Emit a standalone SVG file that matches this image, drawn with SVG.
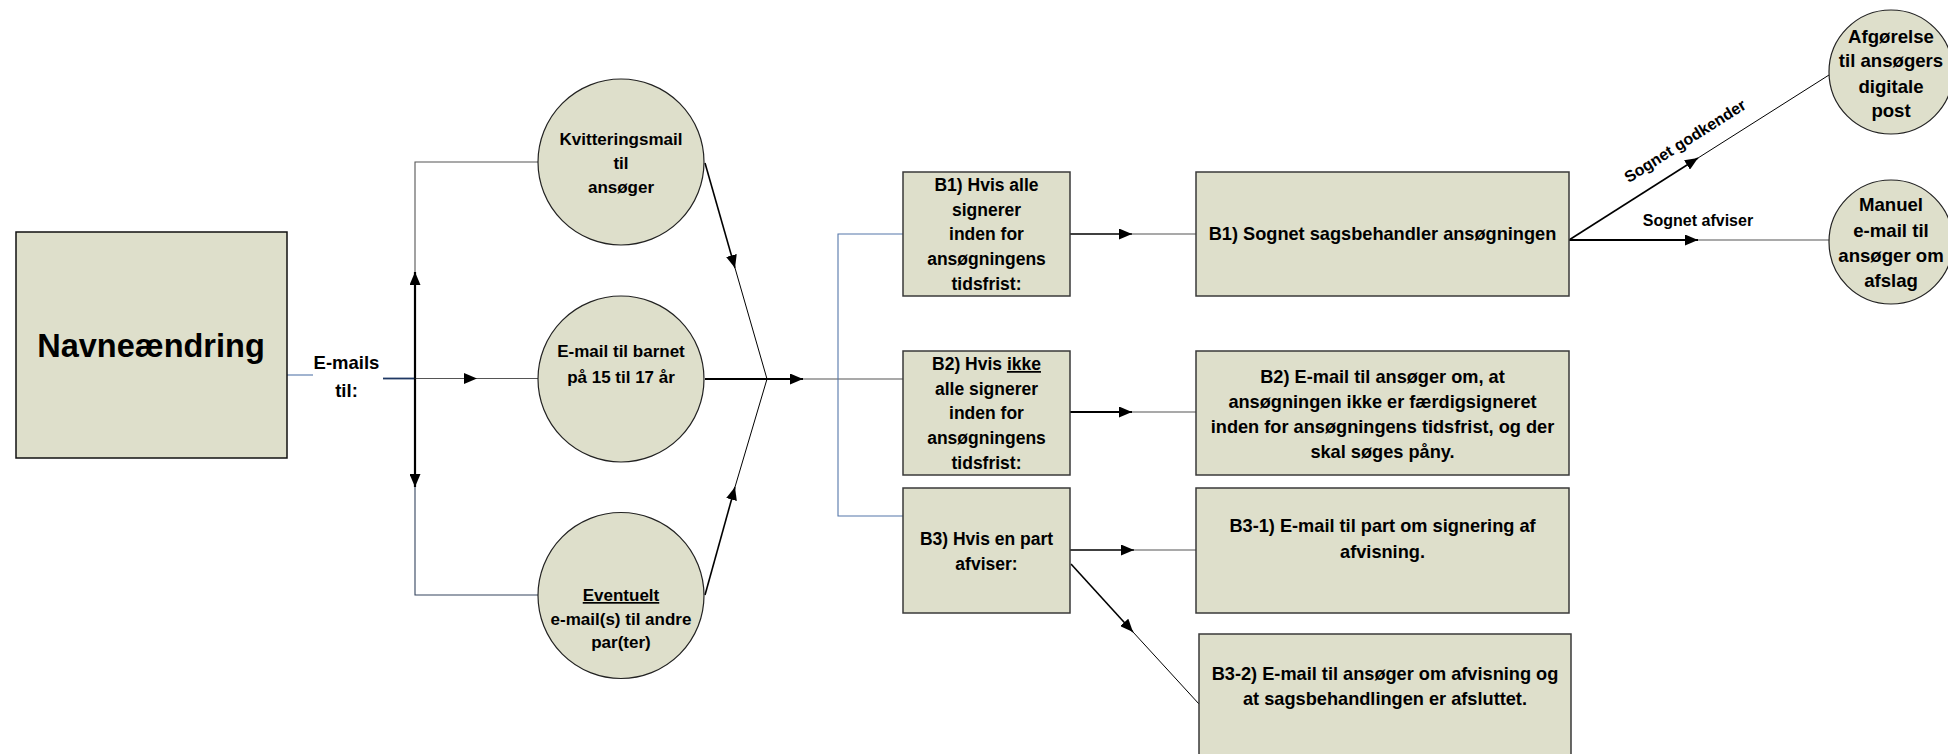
<svg xmlns="http://www.w3.org/2000/svg" width="1948" height="754" viewBox="0 0 1948 754">
<defs>
<marker id="arr" markerUnits="userSpaceOnUse" markerWidth="13" markerHeight="11" refX="13" refY="5.5" orient="auto">
<path d="M0,0 L13,5.5 L0,11 z" fill="#000"/>
</marker>
</defs>
<style>
.box{fill:#dedfcb;stroke:#3a3a3a;stroke-width:1.5}
.main{fill:#dedfcb;stroke:#111;stroke-width:1.5}
.circ{fill:#dedfcb;stroke:#222;stroke-width:1.2}
text{font-family:"Liberation Sans",Arial,sans-serif;font-weight:bold;fill:#000;text-anchor:middle}
.t17{font-size:17px}
.t175{font-size:17.5px}
.t18{font-size:18.2px}
.t185{font-size:18.6px}
.lbl{font-size:16px}
.u{text-decoration:underline}
.c line,.c polyline{fill:none}
.k{stroke:#000;stroke-width:1.6}
.kk{stroke:#000;stroke-width:2.2}
.g{stroke:#555;stroke-width:1.1}
.bl{stroke:#5577aa;stroke-width:1.1}
.nv{stroke:#1f3864;stroke-width:1.8}
</style>
<rect width="1948" height="754" fill="#fff"/>

<g id="connectors" class="c">
<line class="bl" x1="287" y1="375" x2="313" y2="375"/>
<line class="nv" x1="383" y1="378.5" x2="415" y2="378.5"/>
<line class="g" x1="415" y1="378.5" x2="477" y2="378.5" marker-end="url(#arr)"/>
<line class="g" x1="477" y1="378.5" x2="538" y2="378.5"/>
<line class="kk" x1="415" y1="378.5" x2="415" y2="272" marker-end="url(#arr)"/>
<line class="kk" x1="415" y1="378.5" x2="415" y2="487" marker-end="url(#arr)"/>
<polyline class="g" points="415,272 415,162 538,162"/>
<polyline points="415,487 415,595 538,595" stroke="#34445e" stroke-width="1.1"/>
<line class="k" x1="705" y1="163" x2="735" y2="268" marker-end="url(#arr)"/>
<line stroke="#000" stroke-width="1" x1="735" y1="268" x2="767" y2="379"/>
<line class="k" x1="705" y1="595" x2="735" y2="487" marker-end="url(#arr)"/>
<line stroke="#000" stroke-width="1" x1="735" y1="487" x2="767" y2="379"/>
<line class="kk" x1="705" y1="379" x2="803" y2="379" marker-end="url(#arr)"/>
<line class="g" x1="803" y1="379" x2="903" y2="379"/>
<polyline class="bl" points="903,234 838,234 838,516 903,516"/>
<line class="k" x1="1070" y1="234" x2="1132" y2="234" marker-end="url(#arr)"/>
<line class="g" x1="1132" y1="234" x2="1196" y2="234"/>
<line class="kk" x1="1070" y1="412" x2="1132" y2="412" marker-end="url(#arr)"/>
<line class="g" x1="1132" y1="412" x2="1196" y2="412"/>
<line class="k" x1="1070" y1="550" x2="1134" y2="550" marker-end="url(#arr)"/>
<line class="g" x1="1134" y1="550" x2="1196" y2="550"/>
<line class="k" x1="1071" y1="564" x2="1133" y2="632" marker-end="url(#arr)"/>
<line stroke="#000" stroke-width="1" x1="1133" y1="632" x2="1199" y2="704"/>
<line class="k" x1="1569" y1="240" x2="1698" y2="158" marker-end="url(#arr)"/>
<line stroke="#000" stroke-width="1" x1="1698" y1="158" x2="1829" y2="75"/>
<line class="kk" x1="1569" y1="240" x2="1698" y2="240" marker-end="url(#arr)"/>
<line class="g" x1="1698" y1="240" x2="1829" y2="240"/>
<text class="lbl" x="1698" y="226">Sognet afviser</text>
<text class="lbl" transform="translate(1688,145.5) rotate(-32.4)" x="0" y="0">Sognet godkender</text>
<text style="font-size:18.5px" x="346.5" y="369">E-mails</text>
<text style="font-size:18.5px" x="346.5" y="397">til:</text>
</g>

<g id="navneaendring">
<rect class="main" x="16" y="232" width="271" height="226"/>
<text style="font-size:32.5px" x="151" y="357">Navneændring</text>
</g>

<g id="kvittering">
<circle class="circ" cx="621" cy="162" r="83"/>
<text class="t17" x="621" y="145">Kvitteringsmail</text>
<text class="t17" x="621" y="169">til</text>
<text class="t17" x="621" y="193">ansøger</text>
</g>

<g id="barnet">
<circle class="circ" cx="621" cy="379" r="83"/>
<text class="t17" x="621" y="357">E-mail til barnet</text>
<text class="t17" x="621" y="383">på 15 til 17 år</text>
</g>

<g id="eventuelt">
<circle class="circ" cx="621" cy="595.5" r="83"/>
<text class="t17 u" x="621" y="601">Eventuelt</text>
<text class="t17" x="621" y="625">e-mail(s) til andre</text>
<text class="t17" x="621" y="648">par(ter)</text>
</g>

<g id="b1">
<rect class="box" x="903" y="172" width="167" height="124"/>
<text class="t175" x="986.5" y="191">B1) Hvis alle</text>
<text class="t175" x="986.5" y="215.5">signerer</text>
<text class="t175" x="986.5" y="240">inden for</text>
<text class="t175" x="986.5" y="265">ansøgningens</text>
<text class="t175" x="986.5" y="290">tidsfrist:</text>
</g>

<g id="b2">
<rect class="box" x="903" y="351" width="167" height="124"/>
<text class="t175" x="986.5" y="370">B2) Hvis <tspan class="u">ikke</tspan></text>
<text class="t175" x="986.5" y="394.5">alle signerer</text>
<text class="t175" x="986.5" y="419">inden for</text>
<text class="t175" x="986.5" y="444">ansøgningens</text>
<text class="t175" x="986.5" y="469">tidsfrist:</text>
</g>

<g id="b3">
<rect class="box" x="903" y="488" width="167" height="125"/>
<text class="t175" x="986.5" y="545">B3) Hvis en part</text>
<text class="t175" x="986.5" y="570">afviser:</text>
</g>

<g id="b1-sagsbehandler">
<rect class="box" x="1196" y="172" width="373" height="124"/>
<text class="t18" x="1382.5" y="240">B1) Sognet sagsbehandler ansøgningen</text>
</g>

<g id="b2-email">
<rect class="box" x="1196" y="351" width="373" height="124"/>
<text class="t18" x="1382.5" y="383">B2) E-mail til ansøger om, at</text>
<text class="t18" x="1382.5" y="408">ansøgningen ikke er færdigsigneret</text>
<text class="t18" x="1382.5" y="433">inden for ansøgningens tidsfrist, og der</text>
<text class="t18" x="1382.5" y="458">skal søges påny.</text>
</g>

<g id="b3-1">
<rect class="box" x="1196" y="488" width="373" height="125"/>
<text class="t18" x="1382.5" y="532">B3-1) E-mail til part om signering af</text>
<text class="t18" x="1382.5" y="558">afvisning.</text>
</g>

<g id="b3-2">
<rect class="box" x="1199" y="634" width="372" height="130"/>
<text class="t18" x="1385" y="680">B3-2) E-mail til ansøger om afvisning og</text>
<text class="t18" x="1385" y="705">at sagsbehandlingen er afsluttet.</text>
</g>

<g id="afgoerelse">
<circle class="circ" cx="1891" cy="72" r="62"/>
<text class="t185" x="1891" y="43">Afgørelse</text>
<text class="t185" x="1891" y="67">til ansøgers</text>
<text class="t185" x="1891" y="92.5">digitale</text>
<text class="t185" x="1891" y="117">post</text>
</g>

<g id="manuel">
<circle class="circ" cx="1891" cy="242" r="62"/>
<text class="t185" x="1891" y="211">Manuel</text>
<text class="t185" x="1891" y="236.5">e-mail til</text>
<text class="t185" x="1891" y="262">ansøger om</text>
<text class="t185" x="1891" y="287">afslag</text>
</g>
</svg>
